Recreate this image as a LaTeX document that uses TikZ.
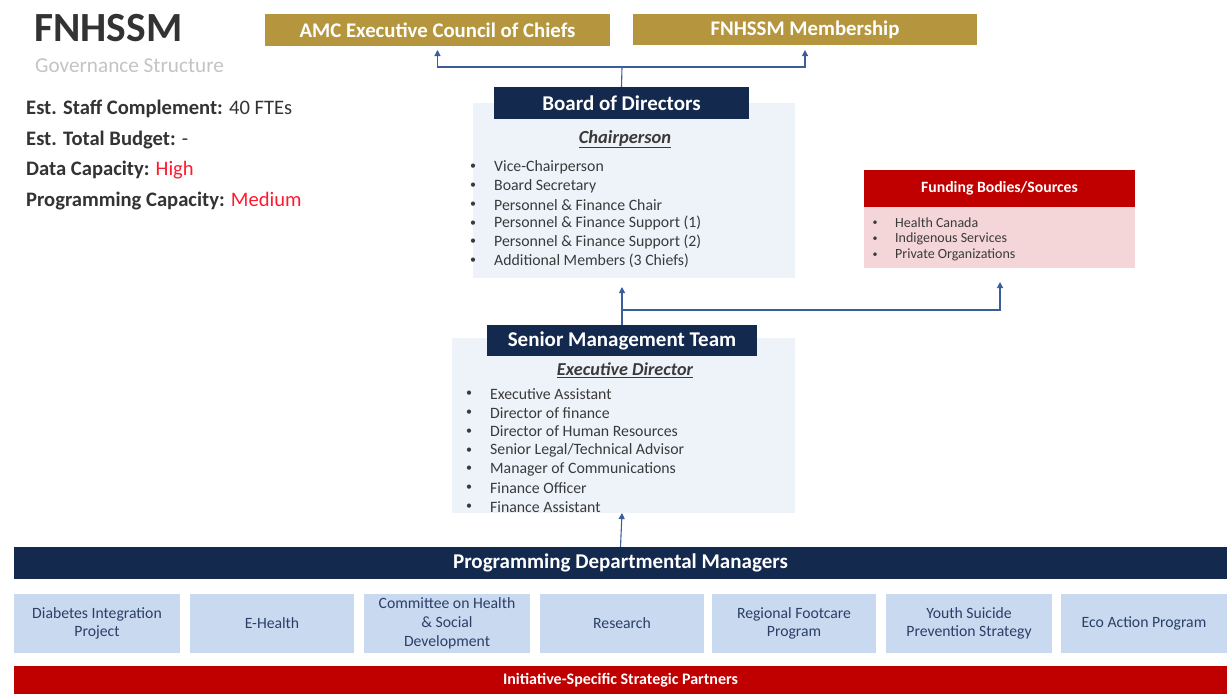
\documentclass[tikz,border=0pt]{standalone}
\usepackage{fontspec}
\setmainfont{Carlito}
\usetikzlibrary{arrows.meta}
\definecolor{navy}{HTML}{13294D}
\definecolor{gold}{HTML}{B5963F}
\definecolor{panel}{HTML}{EEF3FA}
\definecolor{boxblue}{HTML}{C9DAF0}
\definecolor{boxtext}{HTML}{2A3F66}
\definecolor{redbar}{HTML}{C00000}
\definecolor{pinkbody}{HTML}{F4D6D8}
\definecolor{conncol}{HTML}{3A5E9C}
\definecolor{hl}{HTML}{FF1A2E}
\definecolor{titlegray}{HTML}{333333}
\definecolor{subgray}{HTML}{C4C4C4}
\definecolor{listgray}{HTML}{3A3A3A}
\newcommand{\fs}[1]{\fontsize{#1}{#1}\selectfont}
\begin{document}
\begin{tikzpicture}[x=1pt,y=-1pt,
  goldbox/.style={fill=gold,inner sep=0pt,text=white,font=\fs{20.8}\bfseries},
  navybox/.style={fill=navy,inner sep=0pt,text=white,font=\fs{21}\bfseries},
  panelbox/.style={fill=panel,inner sep=0pt},
  progbox/.style={fill=boxblue,inner sep=0pt,text=boxtext,font=\fontsize{15.7}{18.7}\selectfont,align=center,minimum height=59pt},
  item/.style={anchor=west,inner sep=0pt,text=listgray,font=\fs{15.8}},
  bul/.style={inner sep=0pt,text=listgray,font=\fs{12}},
  fitem/.style={anchor=west,inner sep=0pt,text=listgray,font=\fs{14}},
  info/.style={anchor=west,inner sep=0pt,text=titlegray,font=\fs{20.6}},
  arr/.style={draw=conncol,line width=1.1pt,-{Triangle[length=6pt,width=6pt]}},
  conn/.style={draw=conncol,line width=1.1pt}]
\useasboundingbox (0,0) rectangle (1230,694);
\fill[white] (0,0) rectangle (1230,694);

% title
\node[anchor=west,inner sep=0pt,text=titlegray,font=\fs{41.5}\bfseries] (title) at (34,28) {FNHSSM};
\node[anchor=west,inner sep=0pt,text=subgray,font=\fs{21.2}] (sub) at (35,66) {Governance Structure};
\node[info] (i1) at (26,109) {\textbf{Est. Staff Complement:} 40 FTEs};
\node[info] (i2) at (26,140) {\textbf{Est. Total Budget:} -};
\node[info] (i3) at (26,170) {\textbf{Data Capacity:} \textcolor{hl}{High}};
\node[info] (i4) at (26,201) {\textbf{Programming Capacity:} \textcolor{hl}{Medium}};

% top boxes
\node[goldbox,minimum width=345pt,minimum height=32pt] (amc) at (437.5,30) {AMC Executive Council of Chiefs};
\node[goldbox,minimum width=344pt,minimum height=31pt] (mem) at (805,29.5) {FNHSSM Membership};

% board
\node[panelbox,minimum width=322pt,minimum height=175pt] (bpanel) at (634,190.5) {};
\node[navybox,minimum width=255pt,minimum height=32pt] (board) at (621.5,103) {Board of Directors};
\node[inner sep=0pt,text=listgray,font=\fs{18.5}\bfseries\itshape] (chair) at (625,139) {\underline{Chairperson}};
\foreach \t [count=\i] in {Vice-Chairperson,Board Secretary,Personnel \& Finance Chair,Personnel \& Finance Support (1),Personnel \& Finance Support (2),Additional Members (3 Chiefs)}{
  \pgfmathsetmacro{\yy}{167+18.8*(\i-1)}
  \node[bul] (bb\i) at (473,\yy) {\textbullet};
  \node[item] (bt\i) at (494,\yy) {\t};
}

% funding
\node[fill=pinkbody,inner sep=0pt,minimum width=271pt,minimum height=61pt] (fbody) at (999.5,237.5) {};
\node[fill=redbar,inner sep=0pt,minimum width=271pt,minimum height=37pt,text=white,font=\fs{15.7}\bfseries] (fund) at (999.5,188.5) {Funding Bodies/Sources};
\foreach \t [count=\i] in {Health Canada,Indigenous Services,Private Organizations}{
  \pgfmathsetmacro{\yy}{223+16*(\i-1)}
  \node[bul,font=\fs{10}] (fb\i) at (875,\yy) {\textbullet};
  \node[fitem] (ft\i) at (895,\yy) {\t};
}

% senior management
\node[panelbox,minimum width=343pt,minimum height=175pt] (spanel) at (623.5,425.5) {};
\node[navybox,minimum width=270pt,minimum height=31pt] (smt) at (622,340.5) {Senior Management Team};
\node[inner sep=0pt,text=listgray,font=\fs{18.2}\bfseries\itshape] (ed) at (625,370) {\underline{Executive Director}};
\foreach \t [count=\i] in {Executive Assistant,Director of finance,Director of Human Resources,Senior Legal/Technical Advisor,Manager of Communications,Finance Officer,Finance Assistant}{
  \pgfmathsetmacro{\yy}{394+18.8*(\i-1)}
  \node[bul] (sb\i) at (469,\yy) {\textbullet};
  \node[item] (st\i) at (490,\yy) {\t};
}

% programming
\node[fill=navy,inner sep=0pt,minimum width=1213pt,minimum height=32pt,text=white,font=\fs{21}\bfseries] (prog) at (620.5,563) {Programming Departmental Managers};
\node[progbox,minimum width=166pt] (p1) at (97,623.5) {Diabetes Integration\\Project};
\node[progbox,minimum width=164pt] (p2) at (272,623.5) {E-Health};
\node[progbox,minimum width=166pt] (p3) at (447,623.5) {Committee on Health\\\& Social\\Development};
\node[progbox,minimum width=164pt] (p4) at (622,623.5) {Research};
\node[progbox,minimum width=164pt] (p5) at (794,623.5) {Regional Footcare\\Program};
\node[progbox,minimum width=166pt] (p6) at (969,623.5) {Youth Suicide\\Prevention Strategy};
\node[progbox,minimum width=166pt] (p7) at (1144,623.5) {Eco Action Program};
\node[fill=redbar,inner sep=0pt,minimum width=1213pt,minimum height=28pt,text=white,font=\fs{16}\bfseries] (isp) at (620.5,680) {Initiative-Specific Strategic Partners};

% connectors
\coordinate (j1) at (622,67);
\coordinate (atip) at (437.5,50);
\coordinate (mtip) at (805,50);
\draw[conn] (board.north) -- (j1);
\draw[arr] (j1) -| (atip);
\draw[arr] (j1) -| (mtip);
\coordinate (j2) at (622,310);
\coordinate (btip) at (622,287);
\coordinate (ftip) at (1000,282);
\draw[arr] (smt.north) -- (btip);
\draw[arr] (j2) -| (ftip);
\coordinate (stip) at (622,513);
\draw[arr] (prog.north) -- (stip);
\end{tikzpicture}
\end{document}
